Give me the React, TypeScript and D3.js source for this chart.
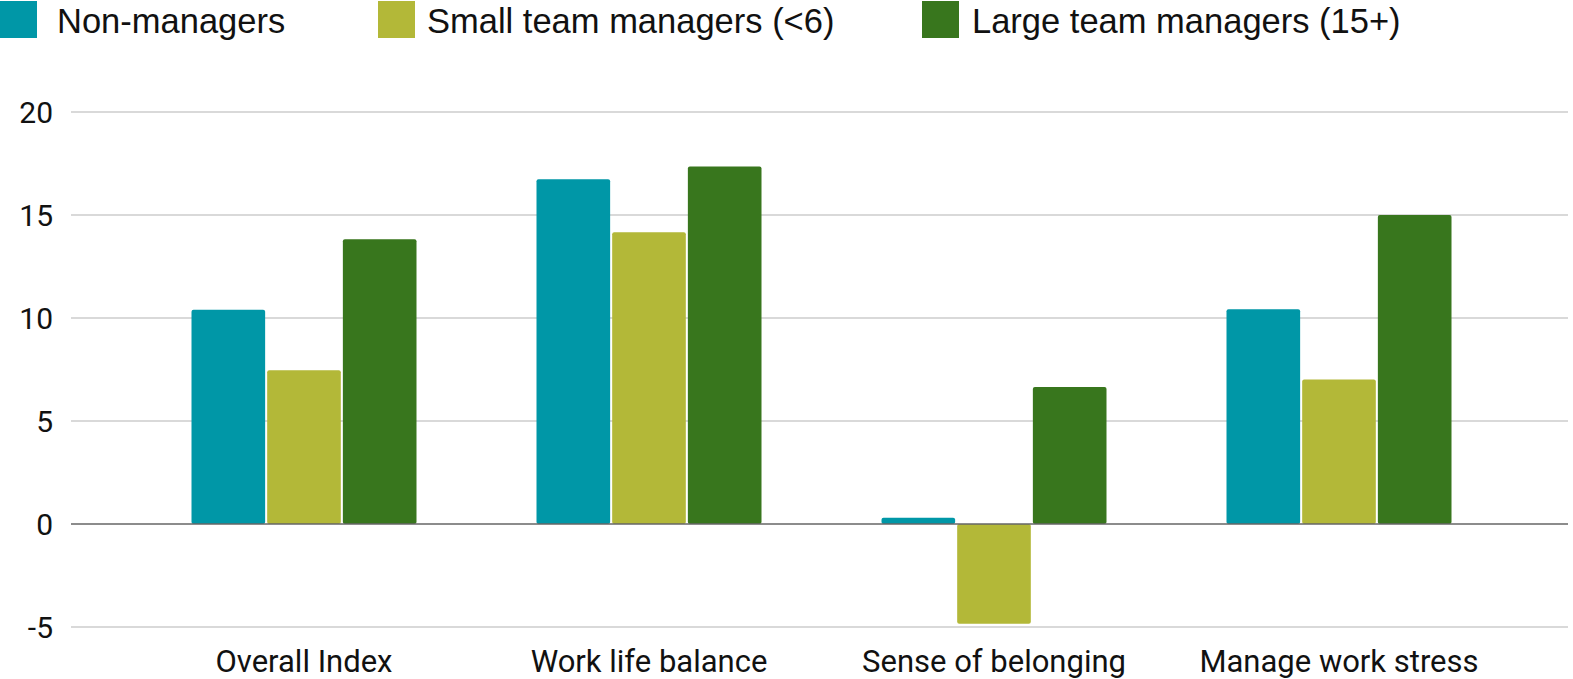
import React from "react";
import * as d3 from "d3";

const categories = ["Overall Index", "Work life balance", "Sense of belonging", "Manage work stress"];
const seriesNames = ["Non-managers", "Small team managers (<6)", "Large team managers (15+)"];
const seriesColors = ["#0097a7", "#b3b838", "#38761d"];
const nonManagers = [10.4, 16.73, 0.3, 10.42];
const smallTeam = [7.46, 14.16, -4.84, 7.02];
const largeTeam = [13.82, 17.35, 6.65, 15.0];
const yTicks = [-5, 0, 5, 10, 15, 20];

const W = 1573;
const H = 679;

export default function App() {
  const seriesValues = [nonManagers, smallTeam, largeTeam];
  const y = d3.scaleLinear().domain([0, 20]).range([524, 112]);
  const x = d3.scaleBand<string>().domain(categories).range([131.5, 1511.5]).padding(0);
  const groupW = 225;
  const inner = d3
    .scaleBand<number>()
    .domain([0, 1, 2])
    .range([0, groupW])
    .paddingInner(0.027);
  const gridLeft = 71;
  const gridRight = 1568;
  const legendSq = [0, 378, 922];
  const legendTx = [57, 427, 972];

  return (
    <div style={{ position: "absolute", left: 0, top: 0 }}>
      <svg width={W} height={H} style={{ display: "block" }}>
        <rect width={W} height={H} fill="#fff" />
        {/* legend */}
        {seriesNames.map((n, i) => (
          <g key={n}>
            <rect x={legendSq[i]} y={1} width={37} height={37} fill={seriesColors[i]} />
            <text
              x={legendTx[i]}
              y={33}
              fontFamily="'Liberation Sans', Arial, sans-serif"
              fontSize={34.5}
              fill="#111"
            >
              {n}
            </text>
          </g>
        ))}
        {/* grid */}
        {yTicks.map((t) => (
          <g key={t}>
            {t !== 0 && (
              <line x1={gridLeft} x2={gridRight} y1={y(t)} y2={y(t)} stroke="#cccccc" strokeWidth={1.5} />
            )}
            <text
              x={53}
              y={y(t)}
              dy="0.36em"
              textAnchor="end"
              fontFamily="Roboto, sans-serif"
              fontSize={30}
              fill="#111"
            >
              {t}
            </text>
          </g>
        ))}
        {/* bars */}
        {categories.map((c, ci) => {
          const gx = (x(c) as number) + x.bandwidth() / 2 - groupW / 2;
          return (
            <g key={c}>
              {seriesValues.map((vals, si) => {
                const v = vals[ci];
                const top = Math.min(y(v), y(0));
                const h = Math.abs(y(v) - y(0));
                return (
                  <rect
                    key={si}
                    x={gx + (inner(si) as number)}
                    y={top}
                    width={inner.bandwidth()}
                    height={h}
                    rx={2}
                    fill={seriesColors[si]}
                  />
                );
              })}
              <text
                x={(x(c) as number) + x.bandwidth() / 2}
                y={672}
                textAnchor="middle"
                fontFamily="Roboto, sans-serif"
                fontSize={31}
                fill="#111"
              >
                {c}
              </text>
            </g>
          );
        })}
        <line x1={gridLeft} x2={gridRight} y1={y(0)} y2={y(0)} stroke="#666666" strokeWidth={1.5} />
      </svg>
    </div>
  );
}
